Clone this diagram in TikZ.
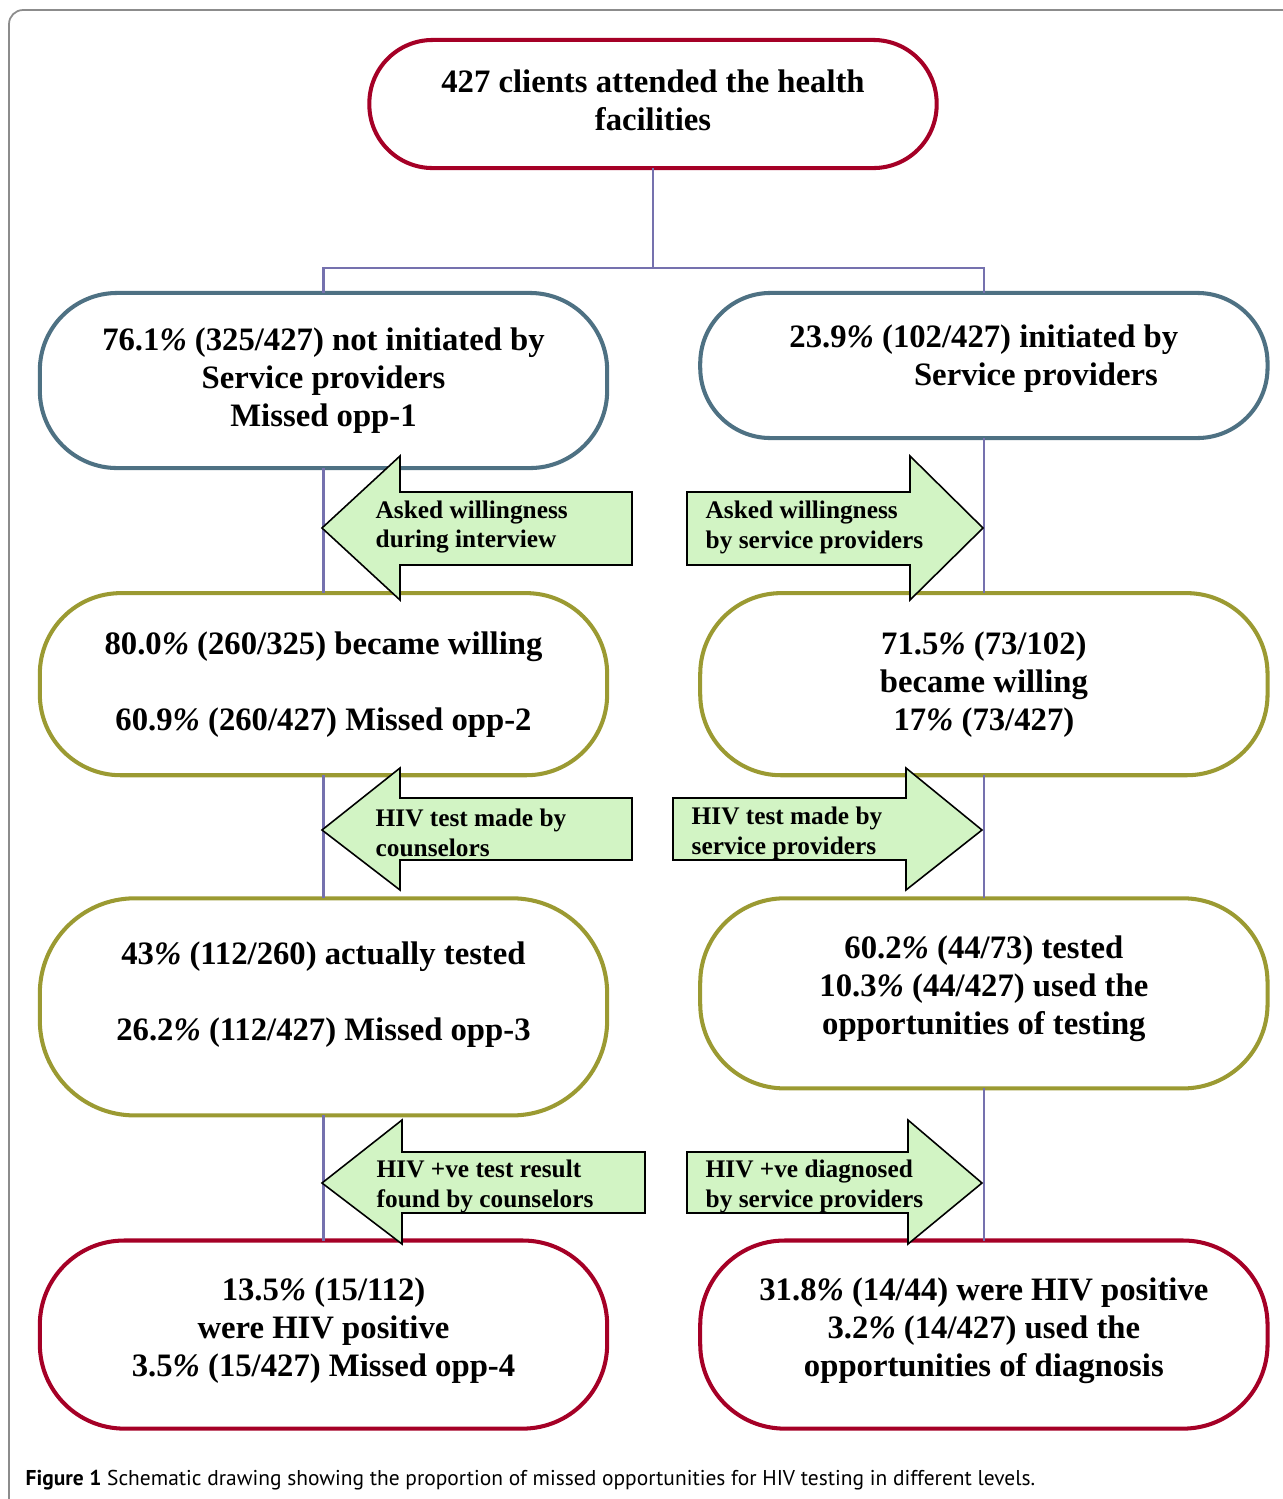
\documentclass[tikz,border=0pt]{standalone}
\usepackage{fontspec}
\setmainfont{Liberation Serif}
\newfontfamily\capfont{PT Sans}
\usetikzlibrary{positioning,calc}
\definecolor{BoxRed}{HTML}{A50026}
\definecolor{BoxSlate}{HTML}{4E7183}
\definecolor{BoxOlive}{HTML}{9B9A32}
\definecolor{LinkBlue}{HTML}{7571AE}
\definecolor{ArrowGreen}{HTML}{D2F4C4}
\definecolor{FrameGray}{HTML}{8C8C8C}
\newcommand{\pct}{\textit{\%}}

\begin{document}
\begin{tikzpicture}[x=0.01cm,y=-0.01cm,
        every node/.style={font=\fontsize{9.3}{10.8}\selectfont\bfseries},
        box/.style={line width=1.15pt,fill=white,rounded corners=22pt,minimum width=5.67cm,align=center,inner sep=0pt,outer sep=0pt},
        note/.style={font=\fontsize{7.2}{8.5}\selectfont\bfseries,align=left,anchor=west,inner sep=0pt},
        flow/.style={draw=black,line width=0.45pt,fill=ArrowGreen},
        link/.style={draw=LinkBlue,line width=0.6pt}
      ]
        \useasboundingbox (0,0) rectangle (1283,1499);
        \draw[FrameGray,line width=0.5pt,rounded corners=4pt] (9,1499) -- (9,10) -- (1283,10);

        % boxes
        \node[box,draw=BoxRed,minimum height=1.28cm,rounded corners=18pt] (top) at (653,104) {427 clients attended the health\\facilities\\[-8.5pt]\mbox{}};
        \node[box,draw=BoxSlate,minimum height=1.75cm] (l1) at (323.5,380.5) {76.1\pct{} (325/427) not initiated by\\Service providers\\Missed opp-1};
        \node[box,draw=BoxSlate,minimum height=1.45cm,rounded corners=20pt,right=0.93cm of l1.north east,anchor=north west] (r1) {23.9\pct{} (102/427) initiated by\\\hspace*{1.04cm}Service providers\\[-5.1pt]\mbox{}};
        \node[box,draw=BoxOlive,minimum height=1.82cm,rounded corners=23pt,below=1.25cm of l1] (l2) {80.0\pct{} (260/325) became willing\\[0.38cm]60.9\pct{} (260/427) Missed opp-2};
        \node[box,draw=BoxOlive,minimum height=1.82cm,rounded corners=23pt,right=0.93cm of l2] (r2) {71.5\pct{} (73/102)\\became willing\\17\pct{} (73/427)};
        \node[box,draw=BoxOlive,minimum height=2.17cm,rounded corners=27pt,below=1.23cm of l2] (l3) {43\pct{} (112/260) actually tested\\[0.38cm]26.2\pct{} (112/427) Missed opp-3\\[-1.7pt]\mbox{}};
        \node[box,draw=BoxOlive,minimum height=1.90cm,rounded corners=24pt,right=0.93cm of l3.north east,anchor=north west] (r3) {60.2\pct{} (44/73) tested\\10.3\pct{} (44/427) used the\\opportunities of testing\\[-6.2pt]\mbox{}};
        \node[box,draw=BoxRed,minimum height=1.88cm,rounded corners=24pt,below=1.25cm of l3] (l4) {13.5\pct{} (15/112)\\were HIV positive\\3.5\pct{} (15/427) Missed opp-4\\[-6.8pt]\mbox{}};
        \node[box,draw=BoxRed,minimum height=1.88cm,rounded corners=24pt,right=0.93cm of l4] (r4) {31.8\pct{} (14/44) were HIV positive\\3.2\pct{} (14/427) used the\\opportunities of diagnosis\\[-6.8pt]\mbox{}};

        % tree lines
        \coordinate (split) at ($(top.south)+(0,100)$);
        \draw[link] (top.south) -- (split);
        \draw[link] (l1.north) |- (split) -| (r1.north);
        \draw[link] (l1.south) -- (l2.north);
        \draw[link] (l2.south) -- (l3.north);
        \draw[link] (l3.south) -- (l4.north);
        \draw[link] (r1.south) -- (r2.north);
        \draw[link] (r2.south) -- (r3.north);
        \draw[link] (r3.south) -- (r4.north);

        % block arrows
        \draw[flow] (322,528) -- (400,456) -- (400,492) -- (632,492) -- (632,565) -- (400,565) -- (400,600) -- cycle;
        \draw[flow] (687,492) -- (910,492) -- (910,456) -- (983,528) -- (910,600) -- (910,565) -- (687,565) -- cycle;
        \draw[flow] (322,830) -- (400,768) -- (400,798) -- (632,798) -- (632,860) -- (400,860) -- (400,890) -- cycle;
        \draw[flow] (673,798) -- (906,798) -- (906,768) -- (982,830) -- (906,890) -- (906,860) -- (673,860) -- cycle;
        \draw[flow] (322,1183) -- (402,1120) -- (402,1152) -- (645,1152) -- (645,1213) -- (402,1213) -- (402,1244) -- cycle;
        \draw[flow] (687,1152) -- (908,1152) -- (908,1120) -- (982,1183) -- (908,1244) -- (908,1213) -- (687,1213) -- cycle;
        \node[note] (a1) at (375,527) {Asked willingness\\during interview};
        \node[note] (b1) at (705,527) {Asked willingness\\by service providers};
        \node[note] (a2) at (375,833) {HIV test made by\\counselors};
        \node[note] (b2) at (691,833) {HIV test made by\\service providers};
        \node[note] (a3) at (376,1186) {HIV +ve test result\\found by counselors};
        \node[note] (b3) at (705,1186) {HIV +ve diagnosed\\by service providers};

        \node[anchor=base west,inner sep=0pt,font=\capfont\fontsize{6.1}{7.5}\selectfont] (caption) at (25,1485) {\textbf{Figure 1} Schematic drawing showing the proportion of missed opportunities for HIV testing in different levels.};
      \end{tikzpicture}
\end{document}
